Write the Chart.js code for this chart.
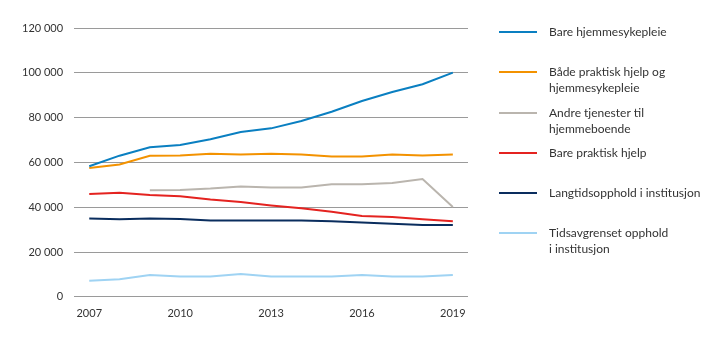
<!DOCTYPE html>
<html>
<head>
<meta charset="utf-8">
<script src="https://cdn.jsdelivr.net/npm/chart.js@4"></script>
<style>
  html, body { margin: 0; padding: 0; background: #fff; }
  #wrap { position: relative; width: 719px; height: 341px; }
</style>
</head>
<body>
<div id="wrap"><canvas id="chart"></canvas></div>
<script>
const years = ['2007', '2008', '2009', '2010', '2011', '2012', '2013', '2014', '2015', '2016', '2017', '2018', '2019'];

const bareHjemmesykepleie = [58300, 63000, 66800, 67800, 70300, 73600, 75200, 78500, 82600, 87400, 91400, 94900, 100100];
const badePraktiskOgSyke = [57500, 59100, 63000, 63100, 63900, 63500, 63900, 63500, 62600, 62600, 63500, 63100, 63500];
const andreTjenester = [null, null, 47600, 47700, 48300, 49200, 48800, 48800, 50200, 50200, 50800, 52600, 40100];
const barePraktiskHjelp = [45900, 46400, 45500, 44900, 43400, 42300, 40800, 39500, 38000, 36100, 35600, 34600, 33700];
const langtidsopphold = [35000, 34600, 35000, 34700, 34100, 34100, 34100, 34100, 33700, 33200, 32600, 32000, 32000];
const tidsavgrenset = [7200, 7800, 9700, 9100, 9100, 10200, 9100, 9100, 9100, 9700, 9100, 9100, 9700];

const seriesLabels = [
    ['Bare hjemmesykepleie'],
    ['Både praktisk hjelp og', 'hjemmesykepleie'],
    ['Andre tjenester til', 'hjemmeboende'],
    ['Bare praktisk hjelp'],
    ['Langtidsopphold i institusjon'],
    ['Tidsavgrenset opphold', 'i institusjon']
];
const seriesColors = ['#0a7fc1', '#f39200', '#bab5ae', '#e42320', '#0a2d5e', '#9fd3f3'];
const seriesData = [bareHjemmesykepleie, badePraktiskOgSyke, andreTjenester, barePraktiskHjelp, langtidsopphold, tidsavgrenset];

const fontFamily = 'Lato, "Open Sans", sans-serif';
const textColor = '#333333';

const formatThousands = v => String(v).replace(/\B(?=(\d{3})+(?!\d))/g, ' ');

// legend drawn by hand so the labels can wrap onto two lines
const sideLegend = {
    id: 'sideLegend',
    afterDraw(chart) {
        const ctx = chart.ctx;
        const x0 = 499, lineLen = 38, textX = 549;
        const rows = [32, 72, 113, 153, 193, 233];
        ctx.save();
        ctx.font = '12px ' + fontFamily;
        ctx.textBaseline = 'middle';
        ctx.fillStyle = textColor;
        seriesLabels.forEach((lines, i) => {
            const y = rows[i];
            ctx.strokeStyle = seriesColors[i];
            ctx.lineWidth = 2;
            ctx.beginPath();
            ctx.moveTo(x0, y);
            ctx.lineTo(x0 + lineLen, y);
            ctx.stroke();
            lines.forEach((t, j) => ctx.fillText(t, textX, y + j * 16));
        });
        ctx.restore();
    }
};

new Chart(document.getElementById('chart'), {
    type: 'line',
    data: {
        labels: years,
        datasets: seriesData.map((d, i) => ({
            label: seriesLabels[i].join(' '),
            data: d,
            borderColor: seriesColors[i],
            backgroundColor: seriesColors[i],
            borderWidth: 2,
            pointRadius: 0,
            tension: 0,
            spanGaps: false
        }))
    },
    options: {
        responsive: true,
        maintainAspectRatio: false,
        animation: false,
        layout: { padding: { top: 28, right: 251, left: 11, bottom: 19 } },
        plugins: {
            legend: { display: false },
            tooltip: { enabled: false }
        },
        scales: {
            x: {
                offset: true,
                grid: { display: false },
                border: { display: false },
                ticks: {
                    color: textColor,
                    font: { size: 11, family: fontFamily },
                    autoSkip: false,
                    maxRotation: 0,
                    padding: 2,
                    callback: function (value, index) {
                        return index % 3 === 0 ? years[index] : '';
                    }
                }
            },
            y: {
                min: 0,
                max: 120000,
                border: { display: false },
                grid: { color: '#9a9a9a', lineWidth: 1, drawTicks: false },
                ticks: {
                    stepSize: 20000,
                    color: textColor,
                    font: { size: 11, family: fontFamily },
                    padding: 11,
                    callback: v => formatThousands(v)
                }
            }
        }
    },
    plugins: [sideLegend]
});
</script>
</body>
</html>
